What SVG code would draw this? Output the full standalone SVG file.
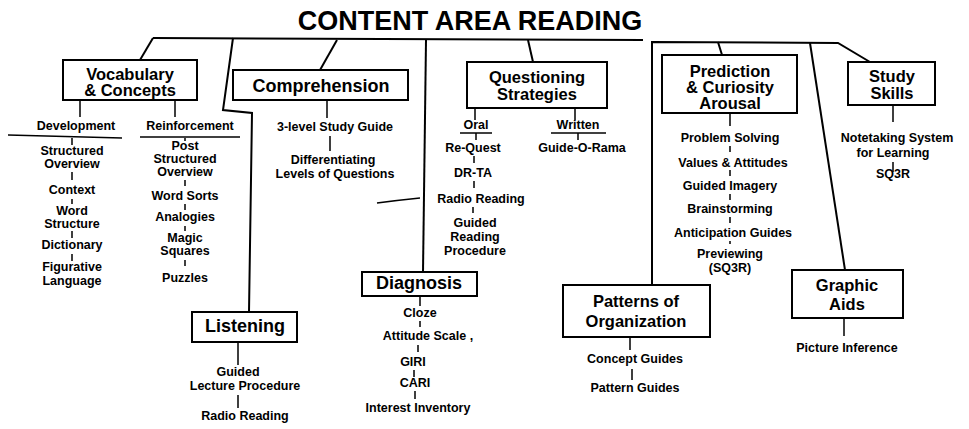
<svg xmlns="http://www.w3.org/2000/svg" width="969" height="429" viewBox="0 0 969 429">
<style>
.bg{fill:#fff}
.box{fill:#fff;stroke:#000;stroke-width:2}
.ln{fill:none;stroke:#000;stroke-width:2}
.tk{fill:none;stroke:#000;stroke-width:1.5}
.ttl{font-family:"Liberation Sans",Arial,sans-serif;font-weight:bold;font-size:27px;text-anchor:middle}
.h{font-family:"Liberation Sans",Arial,sans-serif;font-weight:bold;font-size:18px;text-anchor:middle}
.h2{font-family:"Liberation Sans",Arial,sans-serif;font-weight:bold;font-size:16.5px;text-anchor:middle}
.t{font-family:"Liberation Sans",Arial,sans-serif;font-weight:bold;font-size:12.5px;text-anchor:middle}
</style>
<rect class="bg" x="0" y="0" width="969" height="429"/>
<text class="ttl" x="470" y="30">CONTENT AREA READING</text>

<g id="connectors">
<path class="ln" d="M153,38 L643,40"/>
<path class="ln" d="M153,38 L140,60"/>
<path class="ln" d="M233,38 L223,110 L252,113 L249,312"/>
<path class="ln" d="M337,40 L320,70"/>
<path class="ln" d="M426,40 L423,272"/>
<path class="ln" d="M528,40 L533,62"/>
<path class="ln" d="M652,285 L652,42 L838,43 L870,62"/>
<path class="ln" d="M718,42 L722,55"/>
<path class="ln" d="M810,43 L845,270"/>
<path class="tk" d="M377,203 Q400,200 420,198"/>
</g>

<g id="vocabulary">
<rect class="box" x="63" y="60" width="134" height="40"/>
<text class="h2" x="130" y="80">Vocabulary</text>
<text class="h2" x="130" y="96">&amp; Concepts</text>
<path class="tk" d="M80,100 V117 M175,100 V117"/>
<text class="t" x="76" y="130">Development</text>
<path class="tk" d="M8,135 L122,138"/>
<text class="t" x="190" y="130">Reinforcement</text>
<path class="tk" d="M140,137 L240,137"/>
<path class="tk" d="M72,138 V145 M72,172 V180 M72,199 V204 M72,231 V238 M72,254 V261"/>
<text class="t" x="72" y="155">Structured</text>
<text class="t" x="72" y="168">Overview</text>
<text class="t" x="72" y="194">Context</text>
<text class="t" x="72" y="215">Word</text>
<text class="t" x="72" y="228">Structure</text>
<text class="t" x="72" y="249">Dictionary</text>
<text class="t" x="72" y="271">Figurative</text>
<text class="t" x="72" y="285">Language</text>
<path class="tk" d="M185,138 V141 M185,180 V186 M185,204 V210 M185,226 V231 M185,260 V266"/>
<text class="t" x="185" y="150">Post</text>
<text class="t" x="185" y="163">Structured</text>
<text class="t" x="185" y="176">Overview</text>
<text class="t" x="185" y="200">Word Sorts</text>
<text class="t" x="185" y="221">Analogies</text>
<text class="t" x="185" y="242">Magic</text>
<text class="t" x="185" y="255">Squares</text>
<text class="t" x="185" y="282">Puzzles</text>
</g>

<g id="comprehension">
<rect class="box" x="233" y="70" width="175" height="30"/>
<text class="h" x="321" y="92">Comprehension</text>
<path class="tk" d="M327,100 V118 M330,136 V151"/>
<text class="t" x="335" y="131">3-level Study Guide</text>
<text class="t" x="333" y="164">Differentiating</text>
<text class="t" x="335" y="178">Levels of Questions</text>
</g>

<g id="questioning">
<rect class="box" x="467" y="62" width="140" height="46"/>
<text class="h2" x="537" y="83">Questioning</text>
<text class="h2" x="537" y="100">Strategies</text>
<path class="tk" d="M475,108 V120 M575,108 V120"/>
<text class="t" x="476" y="129">Oral</text>
<path class="tk" d="M460,133 H492"/>
<text class="t" x="578" y="129">Written</text>
<path class="tk" d="M551,133 H606"/>
<path class="tk" d="M476,133 V140 M578,133 V140 M474,156 V163 M474,181 V188 M473,207 V213"/>
<text class="t" x="473" y="152">Re-Quest</text>
<text class="t" x="582" y="152">Guide-O-Rama</text>
<text class="t" x="473" y="177">DR-TA</text>
<text class="t" x="481" y="203">Radio Reading</text>
<text class="t" x="475" y="227">Guided</text>
<text class="t" x="475" y="241">Reading</text>
<text class="t" x="475" y="255">Procedure</text>
</g>

<g id="prediction">
<rect class="box" x="662" y="55" width="135" height="58"/>
<text class="h2" x="730" y="77">Prediction</text>
<text class="h2" x="730" y="93">&amp; Curiosity</text>
<text class="h2" x="730" y="109">Arousal</text>
<path class="tk" d="M730,113 V126 M730,146 V152 M730,170 V176 M730,194 V200 M730,217 V223 M730,241 V244"/>
<text class="t" x="730" y="142">Problem Solving</text>
<text class="t" x="733" y="167">Values &amp; Attitudes</text>
<text class="t" x="730" y="190">Guided Imagery</text>
<text class="t" x="730" y="213">Brainstorming</text>
<text class="t" x="733" y="237">Anticipation Guides</text>
<text class="t" x="730" y="258">Previewing</text>
<text class="t" x="730" y="272">(SQ3R)</text>
</g>

<g id="study-skills">
<rect class="box" x="848" y="62" width="87" height="43"/>
<text class="h2" x="892" y="82">Study</text>
<text class="h2" x="892" y="99">Skills</text>
<path class="tk" d="M893,105 V122 M893,162 V172"/>
<text class="t" x="897" y="142">Notetaking System</text>
<text class="t" x="893" y="157">for Learning</text>
<text class="t" x="893" y="178">SQ3R</text>
</g>

<g id="listening">
<rect class="box" x="192" y="312" width="105" height="30"/>
<text class="h" x="245" y="332">Listening</text>
<path class="tk" d="M238,342 V365 M238,395 V408"/>
<text class="t" x="238" y="376">Guided</text>
<text class="t" x="245" y="390">Lecture Procedure</text>
<text class="t" x="245" y="420">Radio Reading</text>
</g>

<g id="diagnosis">
<rect class="box" x="362" y="272" width="115" height="24"/>
<text class="h" x="419" y="289">Diagnosis</text>
<path class="tk" d="M420,296 V306 M420,321 V327 M418,345 V352 M414,370 V377 M415,391 V399"/>
<text class="t" x="420" y="317">Cloze</text>
<text class="t" x="428" y="340">Attitude Scale ,</text>
<text class="t" x="413" y="366">GIRI</text>
<text class="t" x="415" y="387">CARI</text>
<text class="t" x="418" y="412">Interest Inventory</text>
</g>

<g id="patterns">
<rect class="box" x="563" y="285" width="147" height="52"/>
<text class="h2" x="636" y="307">Patterns of</text>
<text class="h2" x="636" y="327">Organization</text>
<path class="tk" d="M630,337 V350 M632,369 V380"/>
<text class="t" x="635" y="363">Concept Guides</text>
<text class="t" x="635" y="392">Pattern Guides</text>
</g>

<g id="graphic-aids">
<rect class="box" x="792" y="270" width="111" height="48"/>
<text class="h2" x="847" y="291">Graphic</text>
<text class="h2" x="847" y="310">Aids</text>
<path class="tk" d="M844,318 V336"/>
<text class="t" x="847" y="352">Picture Inference</text>
</g>
</svg>
